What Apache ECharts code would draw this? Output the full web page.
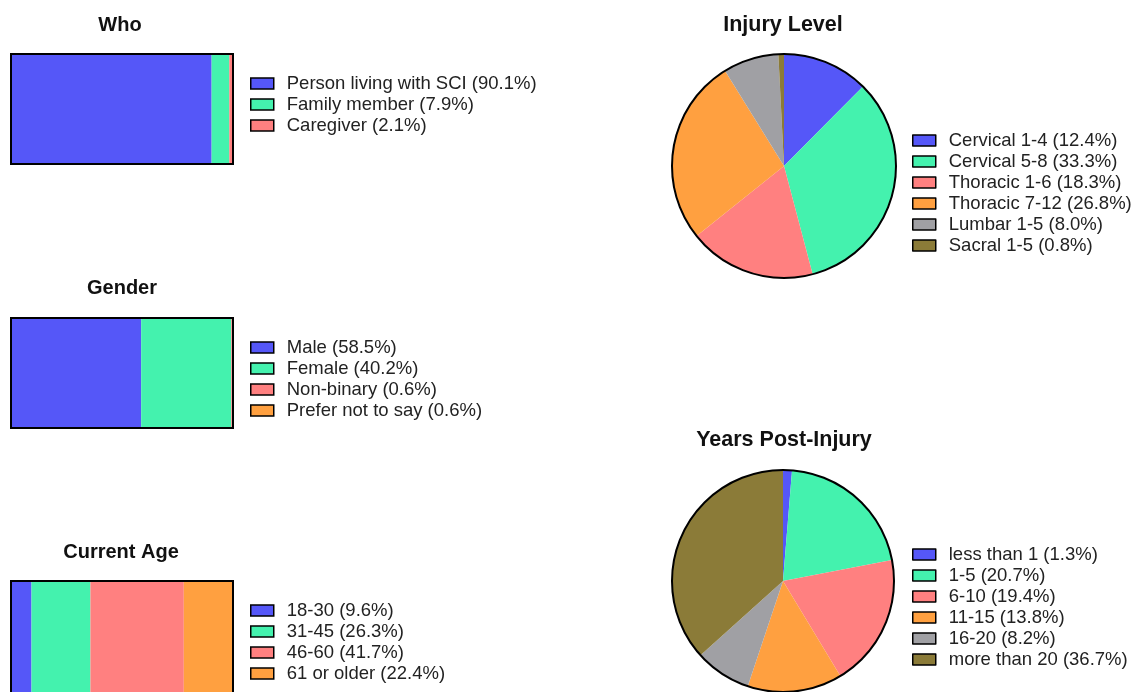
<!DOCTYPE html>
<html><head><meta charset="utf-8">
<script src="https://cdn.jsdelivr.net/npm/echarts@6/dist/echarts.min.js"></script>
<style>html,body{margin:0;padding:0;background:#fff}#c{width:1135px;height:692px}</style>
</head><body><div id="c"></div>
<script>
const colors = ['#5557F8', '#44F2AE', '#FF8080', '#FFA040', '#A0A0A4', '#8B7B38'];

const whoCats = ['Person living with SCI', 'Family member', 'Caregiver'];
const whoVals = [90.1, 7.9, 2.1];
const genderCats = ['Male', 'Female', 'Non-binary', 'Prefer not to say'];
const genderVals = [58.5, 40.2, 0.6, 0.6];
const ageCats = ['18-30', '31-45', '46-60', '61 or older'];
const ageVals = [9.6, 26.3, 41.7, 22.4];
const injuryCats = ['Cervical 1-4', 'Cervical 5-8', 'Thoracic 1-6', 'Thoracic 7-12', 'Lumbar 1-5', 'Sacral 1-5'];
const injuryVals = [12.4, 33.3, 18.3, 26.8, 8.0, 0.8];
const yearsCats = ['less than 1', '1-5', '6-10', '11-15', '16-20', 'more than 20'];
const yearsVals = [1.3, 20.7, 19.4, 13.8, 8.2, 36.7];

const FONT = 'Liberation Sans, Arial, sans-serif';
const label = (c, v) => c + ' (' + v.toFixed(1) + '%)';

const bars = [
  {title: 'Who', cats: whoCats, vals: whoVals, top: 53, h: 112, legTop: 74, titleTop: 10, titleX: 115},
  {title: 'Gender', cats: genderCats, vals: genderVals, top: 317, h: 112, legTop: 338, titleTop: 273, titleX: 117},
  {title: 'Current Age', cats: ageCats, vals: ageVals, top: 580, h: 130, legTop: 601, titleTop: 537, titleX: 116}
];
const pies = [
  {title: 'Injury Level', cats: injuryCats, vals: injuryVals, c: [784, 166], r: 112, legTop: 131, titleTop: 9, titleX: 778},
  {title: 'Years Post-Injury', cats: yearsCats, vals: yearsVals, c: [783, 581], r: 111, legTop: 545, titleTop: 424, titleX: 779}
];

const option = {
  animation: false,
  textStyle: {fontFamily: FONT},
  title: [], legend: [], grid: [], xAxis: [], yAxis: [], series: []
};

const titleStyle = {fontFamily: FONT, fontSize: 20, fontWeight: 'bold', color: '#111'};
const pieTitleStyle = Object.assign({}, titleStyle, {fontSize: 21.5});
const legendBase = (top, left, names) => ({
  top: top, left: left, orient: 'vertical', padding: 0, itemWidth: 23, itemHeight: 11, itemGap: 2,
  icon: 'rect', selectedMode: false, data: names,
  itemStyle: {borderColor: '#000', borderWidth: 1.5},
  textStyle: {fontFamily: FONT, fontSize: 18.5, color: '#222', lineHeight: 16, padding: [0, 0, 0, 8]}
});

bars.forEach((b, gi) => {
  const total = b.vals.reduce((a, x) => a + x, 0);
  option.title.push({text: b.title, left: b.titleX, textAlign: 'center', top: b.titleTop, textStyle: titleStyle});
  option.grid.push({left: 10, width: 224, top: b.top, height: b.h, outerBoundsMode: 'none', containLabel: false});
  option.xAxis.push({gridIndex: gi, type: 'value', min: 0, max: total, show: false});
  option.yAxis.push({gridIndex: gi, type: 'category', data: [b.title], show: false});
  const names = b.cats.map((c, i) => label(c, b.vals[i]));
  option.legend.push(legendBase(b.legTop, 250, names));
  b.cats.forEach((c, i) => {
    option.series.push({
      type: 'bar', name: names[i], xAxisIndex: gi, yAxisIndex: gi, stack: 's' + gi,
      barWidth: '100%', barGap: '-100%', data: [b.vals[i]],
      itemStyle: {color: colors[i], borderWidth: 0}, silent: true
    });
  });
  option.series.push({
    type: 'bar', name: 'outline' + gi, xAxisIndex: gi, yAxisIndex: gi,
    barWidth: '100%', barGap: '-100%', data: [total], z: 10,
    itemStyle: {color: 'rgba(0,0,0,0)', borderColor: '#000', borderWidth: 2}, silent: true
  });
});

pies.forEach((p) => {
  option.title.push({text: p.title, left: p.titleX, textAlign: 'center', top: p.titleTop, textStyle: pieTitleStyle});
  const names = p.cats.map((c, i) => label(c, p.vals[i]));
  option.legend.push(legendBase(p.legTop, 912, names));
  option.series.push({
    type: 'pie', center: p.c, radius: p.r, startAngle: 90, clockwise: true,
    label: {show: false}, labelLine: {show: false}, silent: true,
    data: names.map((n, i) => ({name: n, value: p.vals[i], itemStyle: {color: colors[i]}})),
    itemStyle: {borderWidth: 0}
  });
  option.series.push({
    type: 'pie', center: p.c, radius: p.r, silent: true, z: 10,
    label: {show: false}, labelLine: {show: false},
    data: [{name: 'outline', value: 1}],
    itemStyle: {color: 'rgba(0,0,0,0)', borderColor: '#000', borderWidth: 2}
  });
});

const chart = echarts.init(document.getElementById('c'), null, {renderer: 'canvas'});
chart.setOption(option);
</script>
</body></html>
